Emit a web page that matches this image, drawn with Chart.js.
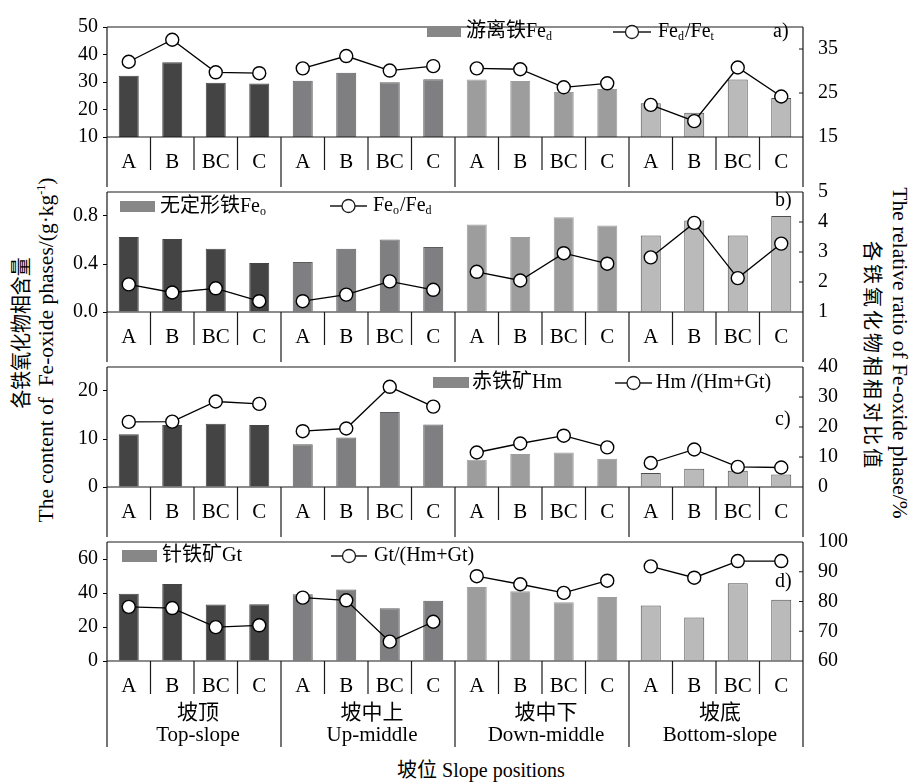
<!DOCTYPE html>
<html>
<head>
<meta charset="utf-8">
<script src="https://cdn.jsdelivr.net/npm/chart.js@4.4.1/dist/chart.umd.min.js"></script>
<style>
  body { margin: 0; background: #fff; }
  #wrap { position: relative; width: 911px; height: 783px; overflow: hidden; }
  #wrap canvas { position: absolute; left: 0; }
  .ttl { position: absolute; white-space: nowrap; font-family: "Liberation Serif", "Noto Sans CJK SC", serif; color: #000; line-height: 1; }
  .ttl sup { font-size: 12px; vertical-align: 8px; }
</style>
</head>
<body>
<div id="wrap">
  <div class="ttl" style="left:21px;top:333px;font-size:21px;transform:translate(-50%,-50%) rotate(-90deg) scaleX(0.9)">各铁氧化物相含量</div>
  <div class="ttl" style="left:46px;top:350px;font-size:21.5px;transform:translate(-50%,-50%) rotate(-90deg)">The content of&nbsp; Fe-oxide phases/(g·kg<sup>-1</sup>)</div>
  <div class="ttl" style="left:872px;top:356px;font-size:20px;letter-spacing:3px;transform:translate(-50%,-50%) rotate(90deg)">各铁氧化物相相对比值</div>
  <div class="ttl" style="left:899px;top:353px;font-size:21.5px;transform:translate(-50%,-50%) rotate(90deg)">The relative ratio of Fe-oxide phase/%</div>
  <div class="ttl" style="left:481px;top:770px;font-size:20px;transform:translate(-50%,-50%)">坡位 Slope positions</div>
</div>
<script>
// --- data ---
const positions = ['A', 'B', 'BC', 'C'];
const groupsZh = ['坡顶', '坡中上', '坡中下', '坡底'];
const groupsEn = ['Top-slope', 'Up-middle', 'Down-middle', 'Bottom-slope'];
const categories = groupsZh.flatMap(() => positions);

// a) free iron Fed (g/kg) and Fed/Fet (%)
const feD = [32.3, 37.2, 29.7, 29.5, 30.5, 33.4, 29.9, 31.0, 30.9, 30.4, 26.4, 27.5, 22.3, 18.8, 30.9, 24.2];
const feDFeT = [32.1, 37.1, 29.7, 29.5, 30.6, 33.4, 30.1, 31.1, 30.6, 30.4, 26.3, 27.2, 22.3, 18.6, 30.8, 24.2];
// b) amorphous iron Feo and Feo/Fed
const feO = [0.624, 0.608, 0.528, 0.408, 0.416, 0.528, 0.605, 0.541, 0.73, 0.624, 0.79, 0.72, 0.638, 0.762, 0.638, 0.80];
const feOFeD = [1.92, 1.65, 1.79, 1.36, 1.36, 1.58, 2.02, 1.74, 2.34, 2.05, 2.96, 2.61, 2.82, 3.97, 2.13, 3.28];
// c) hematite Hm and Hm/(Hm+Gt)
const hm = [11.0, 12.9, 13.2, 12.9, 8.9, 10.3, 15.6, 13.0, 5.7, 6.9, 7.2, 5.9, 2.9, 3.8, 3.4, 2.6];
const hmRatio = [21.7, 21.8, 28.5, 27.7, 18.6, 19.5, 33.4, 26.8, 11.5, 14.5, 17.1, 13.2, 8.0, 12.5, 6.7, 6.5];
// d) goethite Gt and Gt/(Hm+Gt)
const gt = [39.6, 45.3, 33.2, 33.4, 39.2, 42.1, 31.0, 35.5, 43.6, 41.1, 34.5, 37.7, 32.6, 25.6, 45.8, 36.0];
const gtRatio = [78.2, 77.8, 71.4, 72.0, 81.3, 80.4, 66.5, 73.2, 88.5, 85.8, 82.9, 87.0, 91.8, 88.0, 93.6, 93.6];

// tick labels
const leftTicksA = [10, 20, 30, 40, 50];
const rightTicksA = [15, 25, 35];
const leftTicksB = [0, 0.4, 0.8];
const rightTicksB = [1, 2, 3, 4, 5];
const leftTicksC = [0, 10, 20];
const rightTicksC = [0, 10, 20, 30, 40];
const leftTicksD = [0, 20, 40, 60];
const rightTicksD = [60, 70, 80, 90, 100];

// --- styles ---
const SERIF = '"Liberation Serif", "Noto Sans CJK SC", serif';
const groupFill = ['#444444', '#7f7f81', '#9d9d9d', '#bababa'];
const groupEdge = ['#444444', '#5c5c5c', '#9d9d9d', '#4e4e4e'];
const barFill = categories.map((c, i) => groupFill[Math.floor(i / 4)]);
const barEdge = categories.map((c, i) => groupEdge[Math.floor(i / 4)]);

Chart.defaults.color = '#000';
Chart.defaults.font.family = SERIF;

function drawRuns(ctx, x, y, runs) {
    for (const r of runs) {
        ctx.font = r.sub ? `12px ${SERIF}` : (r.bold ? `bold 20px ${SERIF}` : `20px ${SERIF}`);
        ctx.fillText(r.t, x, y + (r.sub ? 5 : 0));
        x += ctx.measureText(r.t).width + (r.sub ? 1 : 0);
    }
}

// frame, table lines, legend and panel letter
const framePlugin = {
    id: 'frame',
    afterDraw(chart, args, o) {
        const { ctx, chartArea: a, scales } = chart;
        const x = scales.x, y1 = scales.y1;
        const off = o.top;
        ctx.save();
        ctx.strokeStyle = '#1a1a1a';
        ctx.lineWidth = 1.2;
        ctx.beginPath();
        ctx.moveTo(a.left, a.top); ctx.lineTo(a.right, a.top);
        ctx.moveTo(a.left, a.bottom); ctx.lineTo(a.right, a.bottom);
        ctx.moveTo(a.left, a.top); ctx.lineTo(a.left, o.boxBottom);
        ctx.moveTo(a.right, a.top); ctx.lineTo(a.right, o.boxBottom);
        for (let i = 0; i < categories.length - 1; i++) {
            const xm = (x.getPixelForValue(i) + x.getPixelForValue(i + 1)) / 2;
            const len = (i % 4 === 3) ? o.boxBottom : a.bottom + 33;
            ctx.moveTo(xm, a.bottom); ctx.lineTo(xm, len);
        }
        // right axis ticks point inwards
        y1.ticks.forEach(t => {
            const yy = y1.getPixelForValue(t.value);
            ctx.moveTo(a.right - 4, yy); ctx.lineTo(a.right, yy);
        });
        ctx.stroke();

        // legend
        const L = o.legend;
        ctx.fillStyle = '#878787';
        ctx.fillRect(L.rect[0], L.rect[1] - off, L.rect[2], L.rect[3]);
        ctx.fillStyle = '#000';
        ctx.textBaseline = 'middle';
        ctx.textAlign = 'left';
        drawRuns(ctx, L.barText[0], L.barText[1] - off, L.barRuns);
        const ly = L.line[2] - off;
        ctx.beginPath();
        ctx.moveTo(L.line[0], ly); ctx.lineTo(L.line[1], ly);
        ctx.lineWidth = 1.3;
        ctx.stroke();
        ctx.beginPath();
        ctx.arc((L.line[0] + L.line[1]) / 2, ly, 6.5, 0, Math.PI * 2);
        ctx.fillStyle = '#fff'; ctx.fill(); ctx.stroke();
        ctx.fillStyle = '#000';
        drawRuns(ctx, L.lineText[0], L.lineText[1] - off, L.lineRuns);
        ctx.font = `20px ${SERIF}`;
        ctx.fillText(o.letter[0], o.letter[1], o.letter[2] - off);

        // slope position names under the last panel
        if (o.groups) {
            ctx.textAlign = 'center';
            ctx.font = `21px ${SERIF}`;
            groupsZh.forEach((g, k) => {
                const cx = (x.getPixelForValue(4 * k + 1) + x.getPixelForValue(4 * k + 2)) / 2 + 4;
                ctx.fillText(g, cx, o.groups[0] - off);
                ctx.fillText(groupsEn[k], cx, o.groups[1] - off);
            });
        }
        ctx.restore();
    }
};

function fixedTicks(list) {
    return axis => { axis.ticks = list.map(v => ({ value: v })); };
}

function makePanel(p) {
    const cv = document.createElement('canvas');
    cv.width = 911; cv.height = p.height;
    cv.style.top = p.top + 'px';
    cv.style.width = '911px'; cv.style.height = p.height + 'px';
    document.getElementById('wrap').appendChild(cv);

    new Chart(cv, {
        data: {
            labels: categories,
            datasets: [
                {
                    type: 'line', data: p.line, yAxisID: 'y1', order: 0,
                    borderColor: '#000', borderWidth: 1.3,
                    pointRadius: 6.5, pointBackgroundColor: '#fff',
                    pointBorderColor: '#000', pointBorderWidth: 1.4,
                    segment: { borderColor: c => c.p0DataIndex % 4 === 3 ? 'rgba(0,0,0,0)' : '#000' }
                },
                {
                    type: 'bar', data: p.bars, yAxisID: 'y', order: 1,
                    backgroundColor: barFill, borderColor: barEdge, borderWidth: 1,
                    barPercentage: 0.46, categoryPercentage: 1
                }
            ]
        },
        options: {
            responsive: false,
            animation: false,
            events: [],
            layout: { padding: { top: p.plotTop - p.top, left: 0, right: 0, bottom: 0 } },
            plugins: {
                legend: { display: false },
                tooltip: { enabled: false },
                frame: {
                    top: p.top, boxBottom: p.boxBottom - p.top,
                    legend: p.legend, letter: p.letter, groups: p.groups
                }
            },
            scales: {
                x: {
                    grid: { display: false },
                    border: { display: false },
                    ticks: { font: { size: 21 }, padding: 5, maxRotation: 0, autoSkip: false },
                    afterFit: axis => { axis.height = p.xHeight; }
                },
                y: {
                    position: 'left', min: p.yMin, max: p.yMax,
                    afterBuildTicks: fixedTicks(p.yTicks),
                    grid: { drawOnChartArea: false, tickLength: 4, color: '#000' },
                    border: { display: false },
                    ticks: { font: { size: 20 }, padding: 5, callback: p.yFmt || (v => v) },
                    afterFit: axis => { axis.width = 107; }
                },
                y1: {
                    position: 'right', min: p.y1Min, max: p.y1Max,
                    afterBuildTicks: fixedTicks(p.y1Ticks),
                    grid: { drawOnChartArea: false, drawTicks: false },
                    border: { display: false },
                    ticks: { font: { size: 20 }, padding: 15 },
                    afterFit: axis => { axis.width = 108; }
                }
            }
        },
        plugins: [framePlugin]
    });
}

makePanel({
    top: 0, height: 187, plotTop: 14, xHeight: 50, boxBottom: 187,
    bars: feD, line: feDFeT,
    yMin: 10, yMax: 50, yTicks: leftTicksA, y1Min: 15, y1Max: 40, y1Ticks: rightTicksA,
    legend: {
        rect: [427, 26, 34, 11], barText: [466, 32], barRuns: [{ t: '游离铁Fe' }, { t: 'd', sub: true }],
        line: [613, 651, 32], lineText: [658, 32],
        lineRuns: [{ t: 'Fe' }, { t: 'd', sub: true }, { t: '/Fe' }, { t: 't', sub: true }]
    },
    letter: ['a)', 773, 32]
});

makePanel({
    top: 165, height: 197, plotTop: 187, xHeight: 50, boxBottom: 362,
    bars: feO, line: feOFeD,
    yMin: 0, yMax: 1.0, yTicks: leftTicksB, yFmt: v => v.toFixed(1),
    y1Min: 1, y1Max: 5, y1Ticks: rightTicksB,
    legend: {
        rect: [120, 201, 35, 11], barText: [160, 207], barRuns: [{ t: '无定形铁Fe' }, { t: 'o', sub: true }],
        line: [330, 367, 206], lineText: [373, 206],
        lineRuns: [{ t: 'Fe' }, { t: 'o', sub: true }, { t: '/Fe' }, { t: 'd', sub: true }]
    },
    letter: ['b)', 775, 201]
});

makePanel({
    top: 340, height: 197, plotTop: 362, xHeight: 50, boxBottom: 537,
    bars: hm, line: hmRatio,
    yMin: 0, yMax: 25, yTicks: leftTicksC, y1Min: 0, y1Max: 40, y1Ticks: rightTicksC,
    legend: {
        rect: [433, 377, 36, 11], barText: [472, 383], barRuns: [{ t: '赤铁矿Hm' }],
        line: [615, 652, 383], lineText: [656, 383],
        lineRuns: [{ t: 'Hm ' }, { t: '/', bold: true }, { t: '(Hm+Gt)' }]
    },
    letter: ['c)', 775, 420]
});

makePanel({
    top: 515, height: 268, plotTop: 537, xHeight: 122, boxBottom: 747,
    bars: gt, line: gtRatio,
    yMin: 0, yMax: 70, yTicks: leftTicksD, y1Min: 60, y1Max: 100, y1Ticks: rightTicksD,
    legend: {
        rect: [122, 550, 35, 12], barText: [162, 556], barRuns: [{ t: '针铁矿Gt' }],
        line: [331, 367, 556], lineText: [374, 556],
        lineRuns: [{ t: 'Gt/(Hm+Gt)' }]
    },
    letter: ['d)', 775, 582],
    groups: [713, 735]
});
</script>
</body>
</html>
